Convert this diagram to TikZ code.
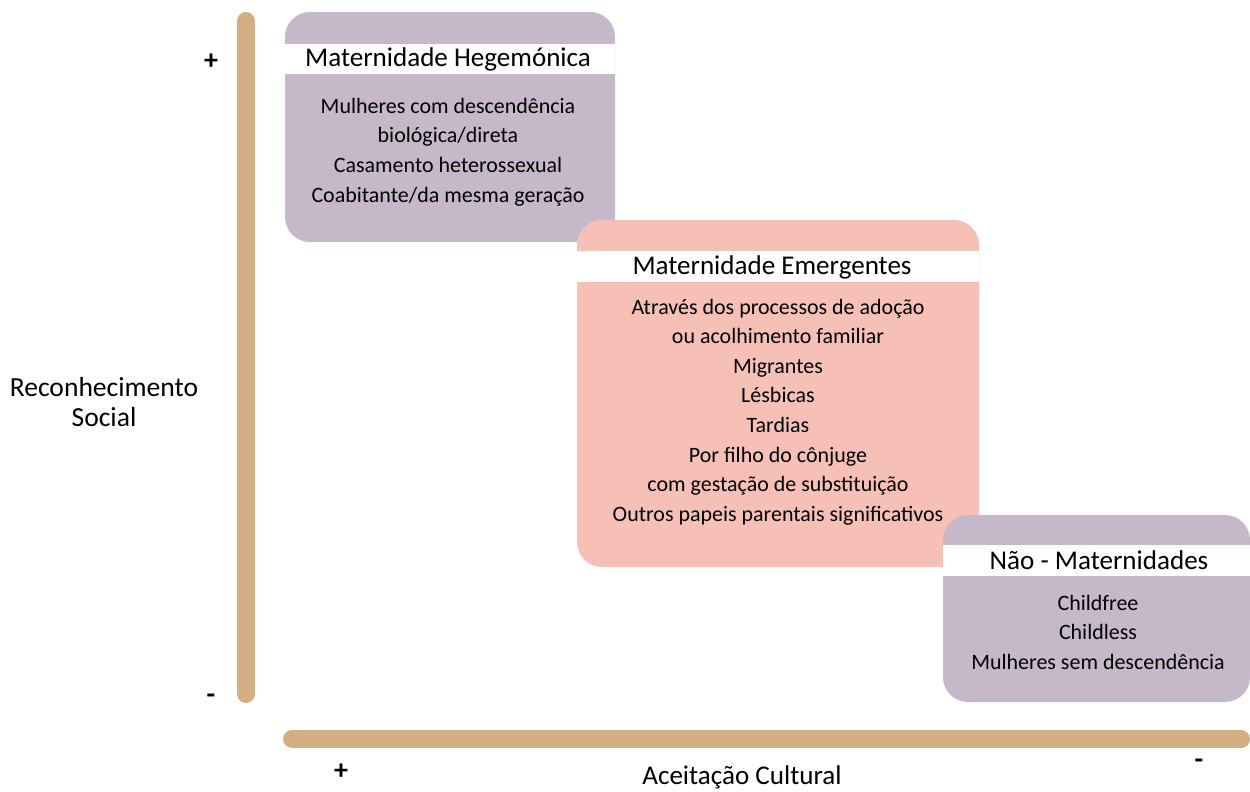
\documentclass[tikz,border=0pt]{standalone}
\usepackage{fontspec}
\setmainfont{Carlito}
\definecolor{lilas}{RGB}{197,184,201}
\definecolor{salmao}{RGB}{246,192,182}
\definecolor{areia}{RGB}{211,175,131}

\begin{document}
\begin{tikzpicture}[x=0.02cm, y=-0.02cm,
    caixa/.style={rounded corners=0.5cm},
    titulo/.style={font=\fontsize{15.4}{18}\selectfont},
    corpo/.style={align=center, font=\fontsize{12.5}{16.8}\selectfont},
    eixo/.style={line width=0.36cm, line cap=round, draw=areia},
    sinal/.style={font=\bfseries\fontsize{16}{18}\selectfont}]
    \useasboundingbox (0, 0) rectangle (1250, 791);

    % eixos
    \coordinate (vtop) at (246, 21);
    \coordinate (vbot) at (246, 694);
    \coordinate (hesq) at (292, 739);
    \coordinate (hdir) at (1241, 739);
    \draw[eixo] (vtop) -- (vbot);
    \draw[eixo] (hesq) -- (hdir);
    \node[sinal] (vmais) at (211, 62) {+};
    \node[sinal] (vmenos) at (211, 699) {-};
    \node[sinal] (hmais) at (341, 772) {+};
    \node[sinal] (hmenos) at (1199, 764) {-};
    \node[align=center, font=\fontsize{15.7}{17.6}\selectfont] (social) at (104, 402) {Reconhecimento\\Social};
    \node[font=\fontsize{15.4}{18}\selectfont] (cultural) at (742, 777) {Aceitação Cultural};

    % hegemonica
    \fill[lilas, caixa] (285, 12) rectangle (615, 242);
    \fill[white] (285, 44) rectangle (615, 74);
    \node[titulo] (hegem) at (448, 59) {Maternidade Hegemónica};
    \node[corpo] (hegemtxt) at (448, 152) {Mulheres com descendência\\biológica/direta\\Casamento heterossexual\\Coabitante/da mesma geração};

    % emergentes
    \fill[salmao, caixa] (577, 220) rectangle (979, 567);
    \fill[white] (577, 251) rectangle (979, 282);
    \node[titulo] (emerg) at (772, 267) {Maternidade Emergentes};
    \node[corpo] (emergtxt) at (778, 412) {Através dos processos de adoção\\ou acolhimento familiar\\Migrantes\\Lésbicas\\Tardias\\Por filho do cônjuge\\com gestação de substituição\\Outros papeis parentais significativos};

    % nao maternidades
    \fill[lilas, caixa] (943, 515) rectangle (1250, 702);
    \fill[white] (943, 545) rectangle (1250, 576);
    \node[titulo] (naomat) at (1099, 560) {Não - Maternidades};
    \node[corpo] (naomattxt) at (1098, 632) {Childfree\\Childless\\Mulheres sem descendência};
\end{tikzpicture}
\end{document}
